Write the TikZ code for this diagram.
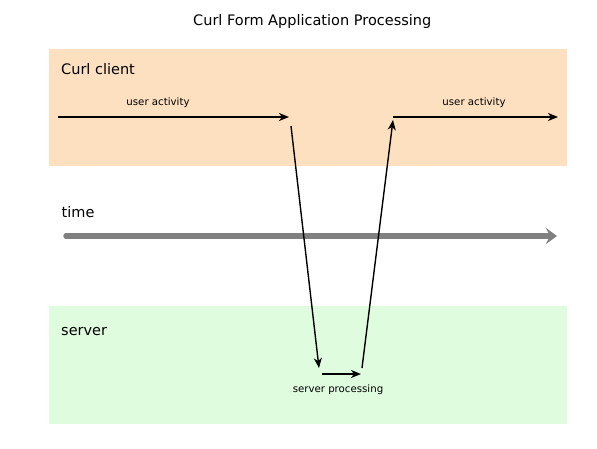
\documentclass[tikz,border=0pt]{standalone}
\usepackage{fontspec}
\setmainfont{DejaVu Sans}
\usetikzlibrary{arrows.meta}
\definecolor{peach}{RGB}{253,224,192}
\definecolor{mint}{RGB}{223,252,223}
\definecolor{timegray}{RGB}{128,128,128}
\begin{document}
\begin{tikzpicture}[x=1pt,y=-1pt,
  lbl/.style={inner sep=0pt,anchor=base west,font=\fontsize{14.5}{16}\selectfont},
  small/.style={inner sep=0pt,anchor=base,font=\fontsize{10.2}{12}\selectfont},
  flow/.style={line width=1.8pt,-{Stealth[length=10pt,width=8pt,inset=3pt]}},
  band/.style={draw=none,inner sep=0pt,anchor=north west}]
\useasboundingbox (0,0) rectangle (597,448);
\fill[white] (0,0) rectangle (597,448);
\node[band,fill=peach,minimum width=518pt,minimum height=117pt] (client) at (49,49) {};
\node[band,fill=mint,minimum width=518pt,minimum height=118pt] (serverband) at (49,306) {};
\node[lbl] (title) at (193,25) {Curl Form Application Processing};
\node[lbl] (clientlbl) at (61,74) {Curl client};
\node[lbl] (timelbl) at (61.5,217) {time};
\node[lbl] (serverlbl) at (61,335) {server};
\node[small] (ua1) at (158,105) {user activity};
\node[small] (ua2) at (474,105) {user activity};
\node[small] (sp) at (338,392.5) {server processing};
\coordinate (a1s) at (58,117);
\coordinate (a1e) at (289,117);
\coordinate (a2s) at (393,117);
\coordinate (a2e) at (558,117);
\coordinate (ds) at (291,126);
\coordinate (de) at (319,368);
\coordinate (ss) at (322,374);
\coordinate (se) at (361,374);
\coordinate (us) at (362,368);
\coordinate (ue) at (393,120);
\coordinate (ts) at (66,236);
\coordinate (te) at (557,236);
\draw[line width=5.5pt,timegray,line cap=round,-{Triangle[length=11pt,width=16pt,inset=4pt]}] (ts) -- (te);
\draw[flow] (a1s) -- (a1e);
\draw[flow] (a2s) -- (a2e);
\draw[flow,line width=1.4pt] (ds) -- (de);
\draw[flow] (ss) -- (se);
\draw[flow,line width=1.4pt] (us) -- (ue);
\end{tikzpicture}
\end{document}
